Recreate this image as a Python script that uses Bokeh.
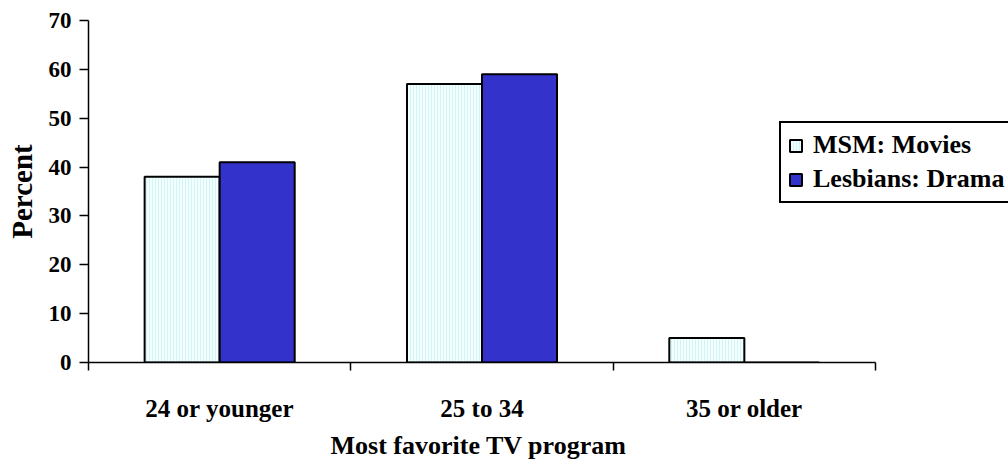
from bokeh.plotting import figure
from bokeh.models import Range1d, FixedTicker, Legend, LegendItem, ColumnDataSource, Title
from bokeh.embed import file_html
from bokeh.resources import INLINE

# Age groups and favourite-programme shares (percent)
categories = ["24 or younger", "25 to 34", "35 or older"]
series_names = ["MSM: Movies", "Lesbians: Drama"]
msm_movies = [38, 57, 5]
lesbians_drama = [41, 59, 0]
y_ticks = [0, 10, 20, 30, 40, 50, 60, 70]
x_title = "Most favorite TV program"
y_title = "Percent"

FONT = "Liberation Serif"
BAR_W = 0.286
N = len(categories)

# The plotting frame runs to the right edge of the canvas so the legend can
# sit past the end of the category axis; the axis itself is bounded to 0..N.
FRAME_LEFT, AXIS_RIGHT, CANVAS_W = 88, 875, 1008
x_end = N * (CANVAS_W - FRAME_LEFT) / (AXIS_RIGHT - FRAME_LEFT)

centers = [i + 0.5 for i in range(N)]
src_msm = ColumnDataSource(dict(x=[c - BAR_W / 2 for c in centers], top=msm_movies))
src_les = ColumnDataSource(dict(x=[c + BAR_W / 2 for c in centers], top=lesbians_drama))

p = figure(
    width=CANVAS_W, height=464,
    output_backend="svg", toolbar_location=None,
    x_range=Range1d(0, x_end), y_range=Range1d(0, 70),
    min_border_left=FRAME_LEFT, min_border_right=0,
    min_border_top=20, min_border_bottom=102,
)
p.outline_line_color = None
p.grid.visible = False
p.background_fill_color = "white"
p.border_fill_color = "white"

r_msm = p.vbar(
    x="x", top="top", bottom=0, width=BAR_W, source=src_msm,
    fill_color="#f3fefe", line_color="black", line_width=2,
    hatch_pattern="vertical_line", hatch_color="#d4f5f5",
    hatch_scale=3, hatch_weight=1,
)
r_les = p.vbar(
    x="x", top="top", bottom=0, width=BAR_W, source=src_les,
    fill_color="#3333cc", line_color="black", line_width=2,
)

# x axis: labels under the group centres, tick marks on group boundaries
xa = p.xaxis[0]
xa.bounds = (0, N)
xa.ticker = FixedTicker(ticks=centers, minor_ticks=list(range(N + 1)))
xa.major_label_overrides = {c: name for c, name in zip(centers, categories)}
xa.major_tick_in = 0
xa.major_tick_out = 0
xa.minor_tick_in = 0
xa.minor_tick_out = 8
xa.minor_tick_line_color = "black"
xa.minor_tick_line_width = 1.5
xa.axis_line_color = "black"
xa.axis_line_width = 1.5
xa.major_label_standoff = 24
xa.major_label_text_font = FONT
xa.major_label_text_font_style = "bold"
xa.major_label_text_font_size = "25px"
xa.major_label_text_color = "black"

# x axis title, placed under the middle of the category span
p.add_layout(Title(
    text=x_title, align="left", offset=242,
    text_font=FONT, text_font_style="bold", text_font_size="26px",
    text_color="black", standoff=8,
), "below")

ya = p.yaxis[0]
ya.ticker = FixedTicker(ticks=y_ticks, minor_ticks=[])
ya.major_tick_in = 0
ya.major_tick_out = 9
ya.major_tick_line_color = "black"
ya.major_tick_line_width = 1.5
ya.axis_line_color = "black"
ya.axis_line_width = 1.5
ya.major_label_standoff = 8
ya.major_label_text_font = FONT
ya.major_label_text_font_style = "bold"
ya.major_label_text_font_size = "23px"
ya.major_label_text_color = "black"
ya.axis_label = y_title
ya.axis_label_text_font = FONT
ya.axis_label_text_font_style = "bold"
ya.axis_label_text_font_size = "29px"
ya.axis_label_text_color = "black"
ya.axis_label_standoff = 8

legend = Legend(
    items=[
        LegendItem(label=series_names[0], renderers=[r_msm]),
        LegendItem(label=series_names[1], renderers=[r_les]),
    ],
    location=(691, 159),
    orientation="vertical",
    border_line_color="black", border_line_width=2, border_line_alpha=1,
    background_fill_color="white", background_fill_alpha=1,
    label_text_font=FONT, label_text_font_style="bold",
    label_text_font_size="26px", label_text_color="black",
    glyph_width=15, glyph_height=15, label_standoff=10,
    label_height=30, spacing=4, padding=7, margin=0,
)
p.add_layout(legend, "center")

open("out.html", "w").write(file_html(p, INLINE))
